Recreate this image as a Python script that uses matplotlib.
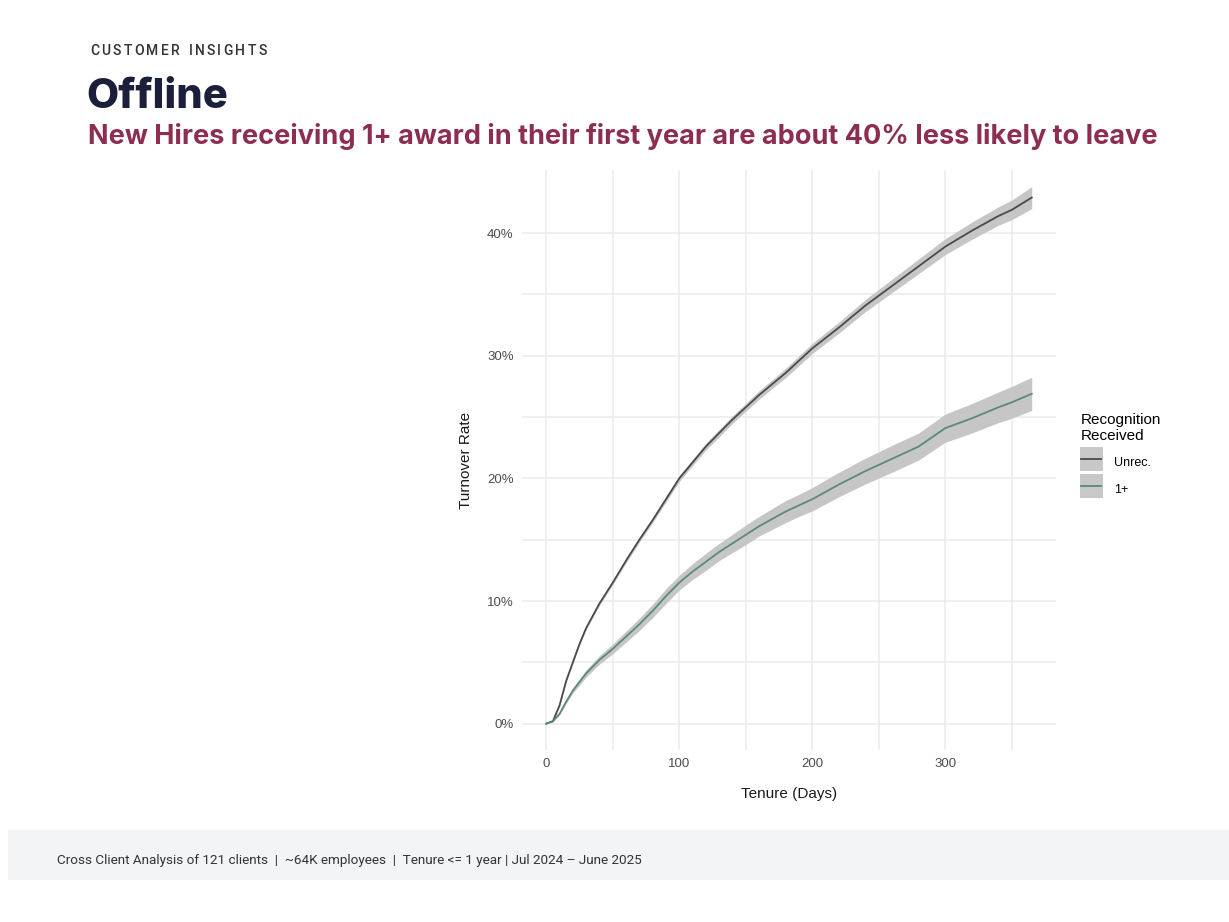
import matplotlib
matplotlib.use("Agg")
import matplotlib.pyplot as plt
from matplotlib.patches import Rectangle
from matplotlib.lines import Line2D
from matplotlib.ticker import FuncFormatter

# ---- data ----
days = [0, 5, 10, 15, 20, 25, 30, 40, 50, 60, 70, 80, 90, 100, 110, 120, 130, 140,
        150, 160, 170, 180, 190, 200, 220, 240, 260, 280, 300, 320, 340, 350, 365]
unrec = [0.0, 0.2, 1.5, 3.5, 5.0, 6.5, 7.8, 9.8, 11.5, 13.3, 15.0, 16.6, 18.3, 20.0,
         21.3, 22.6, 23.7, 24.8, 25.8, 26.8, 27.7, 28.6, 29.6, 30.6, 32.3, 34.1, 35.7,
         37.3, 38.9, 40.2, 41.4, 41.9, 42.9]
unrec_half = [0.0, 0.05, 0.1, 0.1, 0.1, 0.12, 0.12, 0.15, 0.15, 0.18, 0.2, 0.2, 0.22, 0.25,
              0.25, 0.28, 0.3, 0.3, 0.32, 0.35, 0.35, 0.38, 0.4, 0.42, 0.45, 0.5, 0.55,
              0.6, 0.65, 0.7, 0.75, 0.8, 0.9]
plus1 = [0.0, 0.2, 0.8, 1.8, 2.7, 3.4, 4.1, 5.2, 6.1, 7.1, 8.1, 9.2, 10.4, 11.5, 12.4,
         13.2, 14.0, 14.7, 15.4, 16.1, 16.7, 17.3, 17.8, 18.3, 19.5, 20.6, 21.6, 22.6,
         24.1, 24.9, 25.8, 26.2, 26.9]
plus1_half = [0.0, 0.05, 0.1, 0.15, 0.2, 0.25, 0.3, 0.35, 0.4, 0.45, 0.5, 0.55, 0.6,
              0.6, 0.65, 0.7, 0.7, 0.75, 0.8, 0.8, 0.85, 0.9, 0.9, 0.95, 1.0, 1.05,
              1.1, 1.1, 1.15, 1.2, 1.25, 1.3, 1.35]

series_names = ["Unrec.", "1+"]
x_ticks = [0, 100, 200, 300]
y_ticks = [0, 10, 20, 30, 40]

title_small = "CUSTOMER INSIGHTS"
title_main = "Offline"
subtitle = "New Hires receiving 1+ award in their first year are about 40% less likely to leave"
footer = "Cross Client Analysis of 121 clients  |  ~64K employees  |  Tenure <= 1 year | Jul 2024 \u2013 June 2025"

# ---- styles ----
C_UNREC = "#4a4a4f"
C_PLUS = "#5b8a77"
C_RIBBON = "#c6c6c6"
GRID = "#ebebeb"
AXFONT = "Liberation Sans"

W, H = 1229, 922
fig = plt.figure(figsize=(W / 100, H / 100), dpi=100)
fig.patch.set_facecolor("white")

# footer band
fig.patches.append(Rectangle((8 / W, 1 - 880 / H), 1 - 8 / W, 50 / H,
                             transform=fig.transFigure, facecolor="#f3f4f6",
                             edgecolor="none", zorder=0))

ax = fig.add_axes([522 / W, 1 - 750 / H, (1056 - 522) / W, (750 - 170) / H])
ax.set_facecolor("white")
for s in ax.spines.values():
    s.set_visible(False)

ax.fill_between(days, [u - h for u, h in zip(unrec, unrec_half)],
                [u + h for u, h in zip(unrec, unrec_half)], color=C_RIBBON, lw=0, zorder=2)
ax.fill_between(days, [u - h for u, h in zip(plus1, plus1_half)],
                [u + h for u, h in zip(plus1, plus1_half)], color=C_RIBBON, lw=0, zorder=2)
ax.plot(days, unrec, color=C_UNREC, lw=1.3, zorder=3)
ax.plot(days, plus1, color=C_PLUS, lw=1.3, zorder=3)

ax.set_xlim(-18.25, 383.25)
ax.set_ylim(-2.15, 45.15)
ax.set_xticks(x_ticks)
ax.set_yticks(y_ticks)
ax.set_xticks([50, 150, 250, 350], minor=True)
ax.set_yticks([5, 15, 25, 35], minor=True)
ax.grid(which="major", color=GRID, lw=1.1, zorder=0)
ax.grid(which="minor", color=GRID, lw=1.1, zorder=0)
ax.tick_params(which="both", length=0, labelsize=9.5, labelcolor="#4d4d4d", pad=6)
for lab in ax.get_xticklabels() + ax.get_yticklabels():
    lab.set_family(AXFONT)
ax.yaxis.set_major_formatter(FuncFormatter(lambda v, p: f"{int(v)}%"))
ax.set_xlabel("Tenure (Days)", fontsize=11, color="#1a1a1a", labelpad=12, family=AXFONT)
ax.set_ylabel("Turnover Rate", fontsize=11, color="#1a1a1a", labelpad=10, family=AXFONT)

# legend
handles = [Line2D([], [], color=C_UNREC, lw=1.3), Line2D([], [], color=C_PLUS, lw=1.3)]
leg = fig.legend(handles, series_names, title="Recognition\nReceived",
                 loc="upper left", bbox_to_anchor=(1070 / W, 1 - 402 / H),
                 frameon=False, prop={"family": AXFONT, "size": 9},
                 title_fontproperties={"family": AXFONT, "size": 11},
                 handlelength=1.6, handleheight=1.8, labelspacing=0.75,
                 handletextpad=1.0)
leg._legend_box.align = "left"
fig.canvas.draw()
for line in leg.get_lines():
    bb = line.get_window_extent()
    cx = (bb.x0 + bb.x1) / 2
    cy = (bb.y0 + bb.y1) / 2
    fig.patches.append(Rectangle(((cx - 11.5) / W, (cy - 12) / H), 23 / W, 24 / H,
                                 transform=fig.transFigure, facecolor="#c8c8c8",
                                 edgecolor="none", zorder=1))

# small letter-spaced header
renderer = fig.canvas.get_renderer()
xpos = 90.0
for ch in title_small:
    t = fig.text(xpos / W, 1 - 51 / H, ch, fontsize=10, color="#333333",
                 va="center", ha="left", family="Roboto", fontweight="medium")
    if ch == " ":
        w = 4.5
    else:
        w = t.get_window_extent(renderer).width
    xpos += w + 2.3

fig.text(86 / W, 1 - 97 / H, title_main, fontsize=30, color="#1b1f3b",
         va="center", ha="left", family="Inter", fontweight="heavy")
fig.text(88 / W, 1 - 136 / H, subtitle, fontsize=19.5, color="#8d2d50",
         va="center", ha="left", family="Inter", fontweight="bold")
fig.text(57 / W, 1 - 860 / H, footer, fontsize=9.7, color="#333333",
         va="center", ha="left", family="Roboto")

fig.savefig("out.png", dpi=100)
